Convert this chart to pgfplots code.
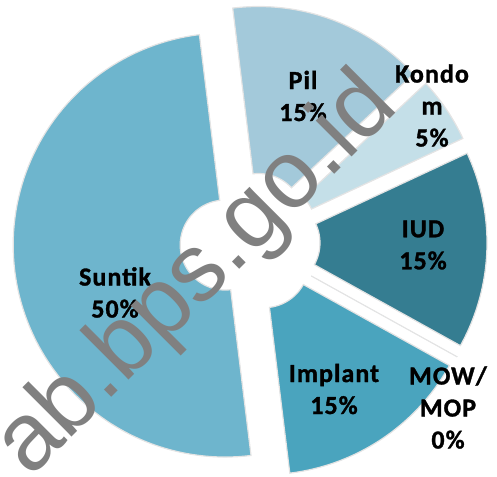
\documentclass[border=0pt]{standalone}
\usepackage{pgfplots}
\pgfplotsset{compat=1.18}
\usepackage{pgfplotstable}
\usepackage{fontspec}
\setmainfont{Carlito}
\newfontfamily\labfont[LetterSpace=4, BoldFeatures={FakeBold=1.2}]{Carlito}
\newfontfamily\wmfont{Liberation Sans}

\definecolor{cpil}{HTML}{A3C9DA}
\definecolor{ckon}{HTML}{C4DFE8}
\definecolor{ciud}{HTML}{357D91}
\definecolor{cmow}{HTML}{5A9AB0}
\definecolor{cimp}{HTML}{4AA4BE}
\definecolor{csun}{HTML}{6EB5CD}
\definecolor{edge}{HTML}{E4E4E4}
\definecolor{wmgray}{HTML}{808080}

% share of each method (percent), in drawing order clockwise from the top
\pgfplotstableread{
name    start value col
Pil     0     15    cpil
Kondom  15    5     ckon
IUD     20    15    ciud
MOW     35    0     cmow
Implant 35    15    cimp
Suntik  50    50    csun
}\slices

\def\cx{250}  % pie centre
\def\cy{235}
\def\Ro{212}  % outer radius
\def\Ri{45}   % hole radius
\def\ex{25}   % explosion
\def\rot{-7}  % first slice angle

\begin{document}
\begin{tikzpicture}
\begin{axis}[
  width=497bp, height=477bp, scale only axis,
  xmin=0, xmax=497, ymin=0, ymax=477,
  hide axis, clip=false,
]
\path (rel axis cs:0,0) rectangle (rel axis cs:1,1);
\pgfplotsinvokeforeach{0,...,5}{
  \pgfplotstablegetelem{#1}{start}\of\slices \let\st\pgfplotsretval
  \pgfplotstablegetelem{#1}{value}\of\slices \let\vl\pgfplotsretval
  \pgfplotstablegetelem{#1}{col}\of\slices \let\cl\pgfplotsretval
  \pgfmathsetmacro\angA{\rot+3.6*\st}
  \pgfmathsetmacro\angB{\angA+3.6*\vl}
  \pgfmathsetmacro\angM{(\angA+\angB)/2}
  \pgfmathsetmacro\ox{\cx+\ex*sin(\angM)}
  \pgfmathsetmacro\oy{\cy+\ex*cos(\angM)}
  \edef\doslice{\noexpand\addplot[fill=\cl, draw=edge, line width=1.2bp,
      domain=0:2, samples=201]
    ({\ox+((x<1.005)?\Ro:\Ri)*sin((x<1.005)?(\angA+x*(\angB-\angA)):(\angB-(x-1.01)*(\angB-\angA)/0.99))},
     {\oy+((x<1.005)?\Ro:\Ri)*cos((x<1.005)?(\angA+x*(\angB-\angA)):(\angB-(x-1.01)*(\angB-\angA)/0.99))}) -- cycle;}
  \doslice
}

\begin{scope}[every node/.style={font=\labfont\bfseries\fontsize{26bp}{32bp}\selectfont,
    align=center, inner sep=0pt}]
\node at (axis cs:303,381) {Pil\\15\%};
\node at (axis cs:432,371.5) {Kondo\\m\\5\%};
\node at (axis cs:423,232) {IUD\\15\%};
\node at (axis cs:334,88) {Implant\\15\%};
\node at (axis cs:448,69.5) {MOW/\\MOP\\0\%};
\node at (axis cs:115,184.5) {Suntik\\50\%};
\end{scope}

\node[overlay, rotate=45, anchor=base west, inner sep=0pt, text=wmgray,
  font=\wmfont\fontsize{96bp}{96bp}\selectfont] at (axis cs:30,-2) {ab.bps.go.id};
\end{axis}
\end{tikzpicture}
\end{document}
